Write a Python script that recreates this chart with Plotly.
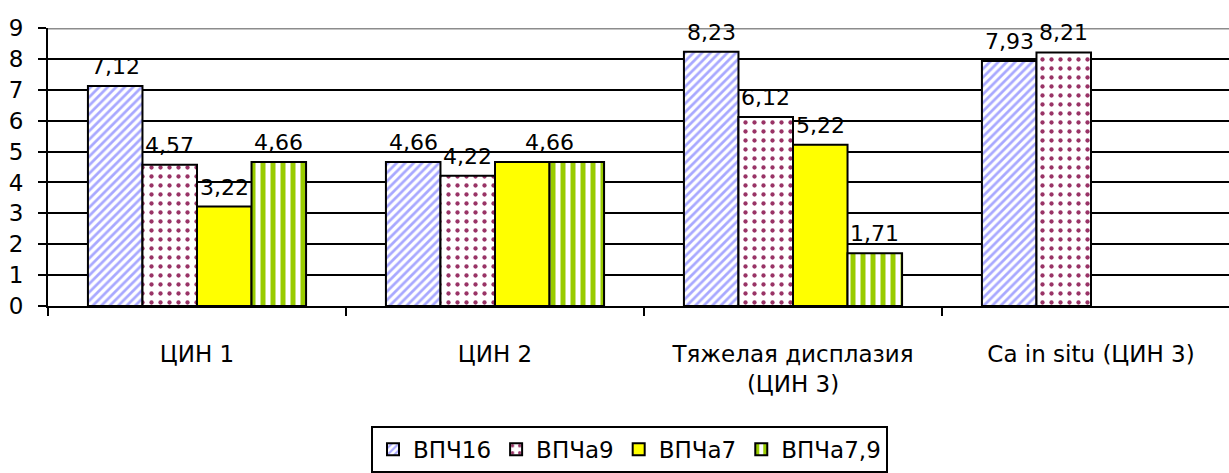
import plotly.graph_objects as go

# Categories and series values
categories = ["ЦИН 1", "ЦИН 2", "Тяжелая дисплазия<br>(ЦИН 3)", "Ca in situ (ЦИН 3)"]
series_names = ["ВПЧ16", "ВПЧа9", "ВПЧа7", "ВПЧа7,9"]
vpch16 = [7.12, 4.66, 8.23, 7.93]
vpcha9 = [4.57, 4.22, 6.12, 8.21]
vpcha7 = [3.22, 4.66, 5.22, None]
vpcha7_9 = [4.66, 4.66, 1.71, None]
y_ticks = [0, 1, 2, 3, 4, 5, 6, 7, 8, 9]

series_values = [vpch16, vpcha9, vpcha7, vpcha7_9]

FONT = "DejaVu Sans"

styles = [
    dict(color="white", pattern=dict(shape="/", fgcolor="#A8A8FF", bgcolor="white",
                                     size=6, solidity=0.45, fillmode="replace")),
    dict(color="white", pattern=dict(shape=".", fgcolor="#993366", bgcolor="white",
                                     size=9, solidity=0.18, fillmode="replace")),
    dict(color="#FFFF00"),
    dict(color="white", pattern=dict(shape="|", fgcolor="#99CC00", bgcolor="white",
                                     size=10, solidity=0.5, fillmode="replace")),
]

fig = go.Figure()
for name, vals, st in zip(series_names, series_values, styles):
    fig.add_trace(go.Bar(
        x=categories, y=vals, name=name,
        marker=dict(line=dict(color="black", width=2), **st),
    ))

# Plot geometry (pixels)
W, H = 1229, 473
ML, MR, MT, MB = 48, 0, 28, 162
CAT_PX = 298.0
BARGAP = 0.268
x_end = -0.5 + (W - ML - MR) / CAT_PX
bar_px = CAT_PX * (1 - BARGAP) / len(series_values)


def fmt(v):
    return f"{v:.2f}".replace(".", ",")


# Value labels above bars; the last two equal bars share one label
annotations = []
for ci, cat in enumerate(categories):
    si = 0
    while si < len(series_values):
        v = series_values[si][ci]
        if v is None:
            si += 1
            continue
        span = 1
        if si + 1 < len(series_values) and series_values[si + 1][ci] == v and si + 1 == 3:
            span = 2
        center = si + (span - 1) / 2
        annotations.append(dict(
            x=cat, y=v, xref="x", yref="y", text=fmt(v), showarrow=False,
            xshift=(center - (len(series_values) - 1) / 2) * bar_px,
            yanchor="bottom", yshift=5,
            font=dict(family=FONT, size=22, color="black"),
        ))
        si += span

fig.update_layout(
    width=W, height=H,
    margin=dict(l=ML, r=MR, t=MT, b=MB),
    paper_bgcolor="white", plot_bgcolor="white",
    barmode="group", bargap=BARGAP, bargroupgap=0,
    font=dict(family=FONT, color="black"),
    annotations=annotations,
    legend=dict(
        orientation="h", x=(371 - ML) / (W - ML - MR), y=-(433 - (H - MB)) / (H - MT - MB),
        xanchor="left", yanchor="top",
        bordercolor="black", borderwidth=2, bgcolor="white",
        font=dict(family=FONT, size=23, color="black"),
        traceorder="normal", itemwidth=30,
    ),
    shapes=[dict(type="line", xref="paper", yref="y", x0=0, x1=1, y0=9, y1=9,
                 line=dict(color="#8c8c8c", width=3), layer="above")],
)

fig.update_xaxes(
    type="category", range=[-0.5, x_end], tickson="boundaries",
    ticks="outside", ticklen=8, tickwidth=2, tickcolor="black",
    showline=True, linecolor="black", linewidth=2, showgrid=False,
    tickfont=dict(family=FONT, size=23, color="black"), ticklabelstandoff=26,
)
fig.update_yaxes(
    range=[0, 9], tickvals=y_ticks, ticktext=[str(t) for t in y_ticks],
    ticks="outside", ticklen=8, tickwidth=2, tickcolor="black",
    showline=True, linecolor="black", linewidth=2,
    showgrid=True, gridcolor="black", gridwidth=2, zeroline=False,
    tickfont=dict(family=FONT, size=23, color="black"), ticklabelstandoff=10,
)

fig.write_html("out.html")
